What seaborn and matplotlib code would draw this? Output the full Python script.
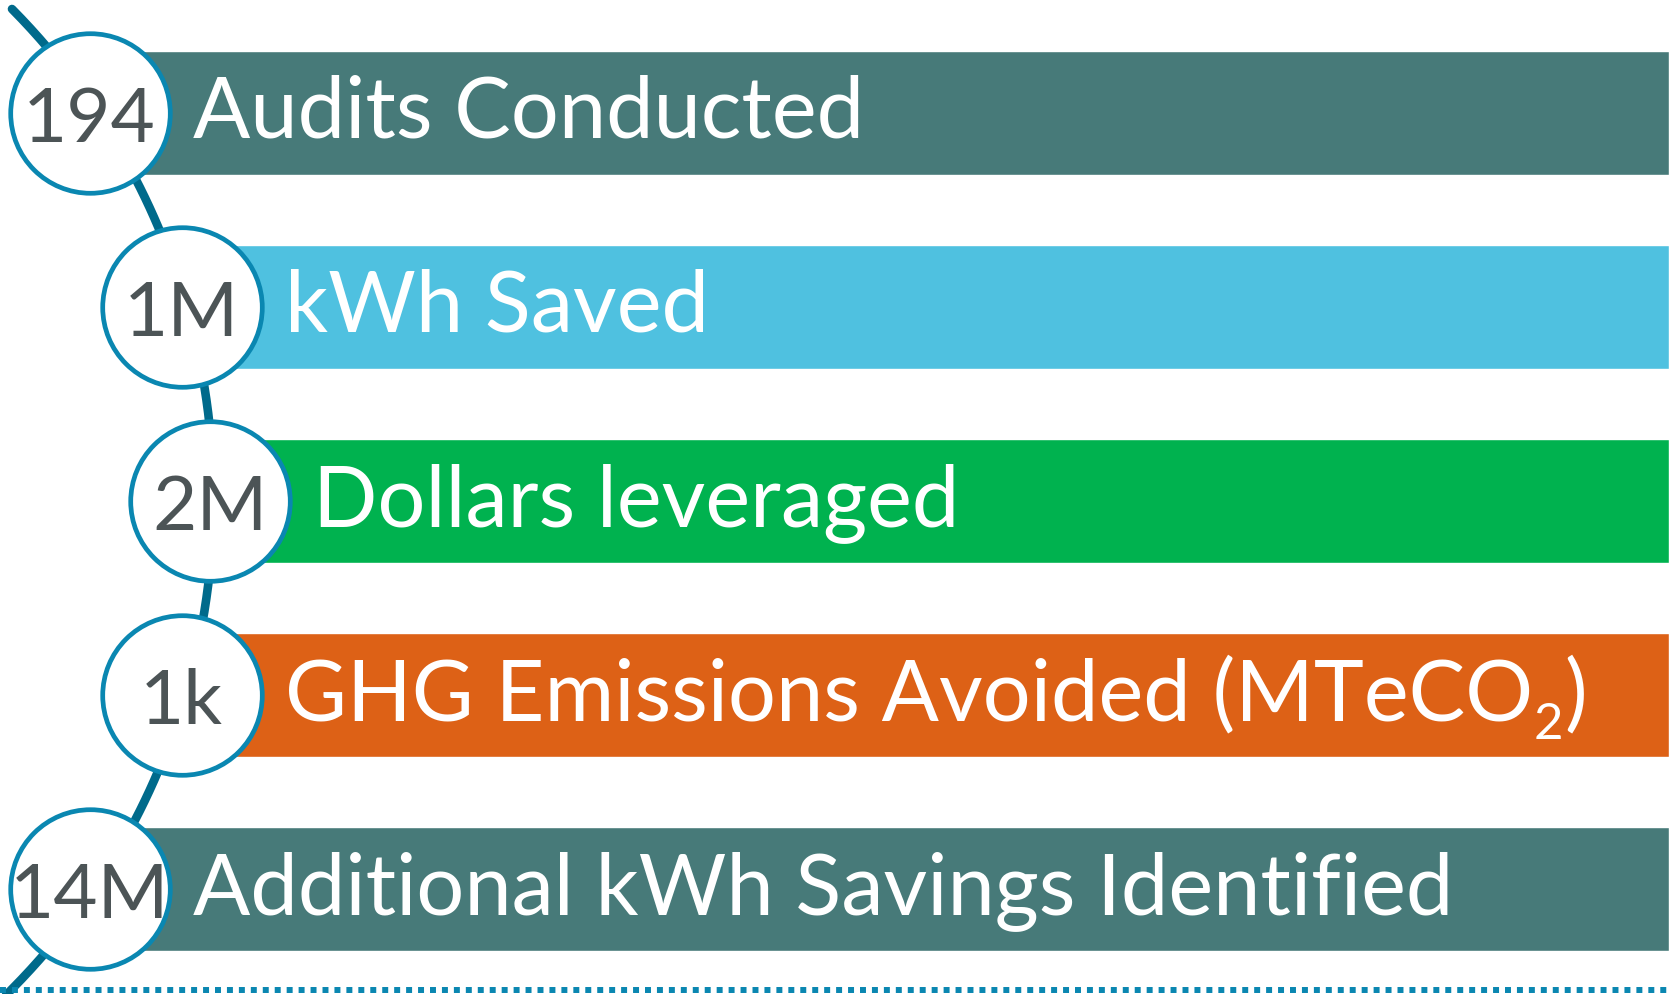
import numpy as np
import pandas as pd
import seaborn as sns
import matplotlib.pyplot as plt

# infographic rows
values = ["194", "1M", "2M", "1k", "14M"]
labels = ["Audits Conducted", "kWh Saved", "Dollars leveraged",
          "GHG Emissions Avoided (MTeCO\u2082)", "Additional kWh Savings Identified"]
bar_colors = ["#477a79", "#4fc1e0", "#00b24f", "#dd6116", "#477a79"]

# layout (pixels)
W, H = 1669, 995
row_top, row_step = 113.5, 194.2
circle_x = [89.5, 181.5, 210, 181.5, 89.5]
bar_h = 124
ring = "#0a87b1"
line_col = "#006a8b"
num_col = "#4c5456"

sns.set_theme(style="white")
plt.rcParams["font.family"] = ["Lato", "DejaVu Sans"]

df = pd.DataFrame({"value": values, "label": labels, "color": bar_colors,
                   "cx": circle_x})
df["cy"] = row_top + row_step * np.arange(len(df))

fig = plt.figure(figsize=(W / 100, H / 100), dpi=100)
ax = fig.add_axes([0, 0, 1, 1])

# bars
ax.barh(df["cy"], W - df["cx"], left=df["cx"], height=bar_h,
        color=df["color"], zorder=1)

# connector arc
acx, acy, R = -483, 500, 696.5
yy = np.linspace(10, 1000, 300)
xx = acx + np.sqrt(R**2 - (yy - acy) ** 2)
ax.plot(xx, yy, color=line_col, lw=6.2, solid_capstyle="round", zorder=2)

# dotted baseline
ax.plot([0, W], [991, 991], color=ring, lw=4.3, linestyle=(0, (1, 1)),
        dash_capstyle="butt", zorder=5)

# circles
sns.scatterplot(data=df, x="cx", y="cy", s=13200, color="white",
                edgecolor=ring, linewidth=3.4, ax=ax, zorder=3, legend=False)
ax.set_xlim(0, W)
ax.set_ylim(H, 0)
ax.axis("off")

fs = 61
fs_num = 55
fig.canvas.draw()
rend = fig.canvas.get_renderer()
inv = ax.transData.inverted()

for _, r in df.iterrows():
    ax.text(r["cx"], r["cy"] + 28, r["value"], ha="center", va="baseline",
            fontsize=fs_num, color=num_col, zorder=4)
    x0 = r["cx"] + 103
    base = r["cy"] + 24
    parts = r["label"].split("\u2082")
    t = ax.text(x0, base, parts[0], ha="left", va="baseline", fontsize=fs,
                color="white", zorder=4)
    if len(parts) > 1:
        x1 = inv.transform(t.get_window_extent(rend))[1][0]
        s = ax.text(x1 + 1, base + 19, "2", ha="left", va="baseline",
                    fontsize=fs * 0.6, color="white", zorder=4)
        x2 = inv.transform(s.get_window_extent(rend))[1][0]
        ax.text(x2 + 1, base, parts[1], ha="left", va="baseline",
                fontsize=fs, color="white", zorder=4)

fig.savefig("out.png", dpi=100)
